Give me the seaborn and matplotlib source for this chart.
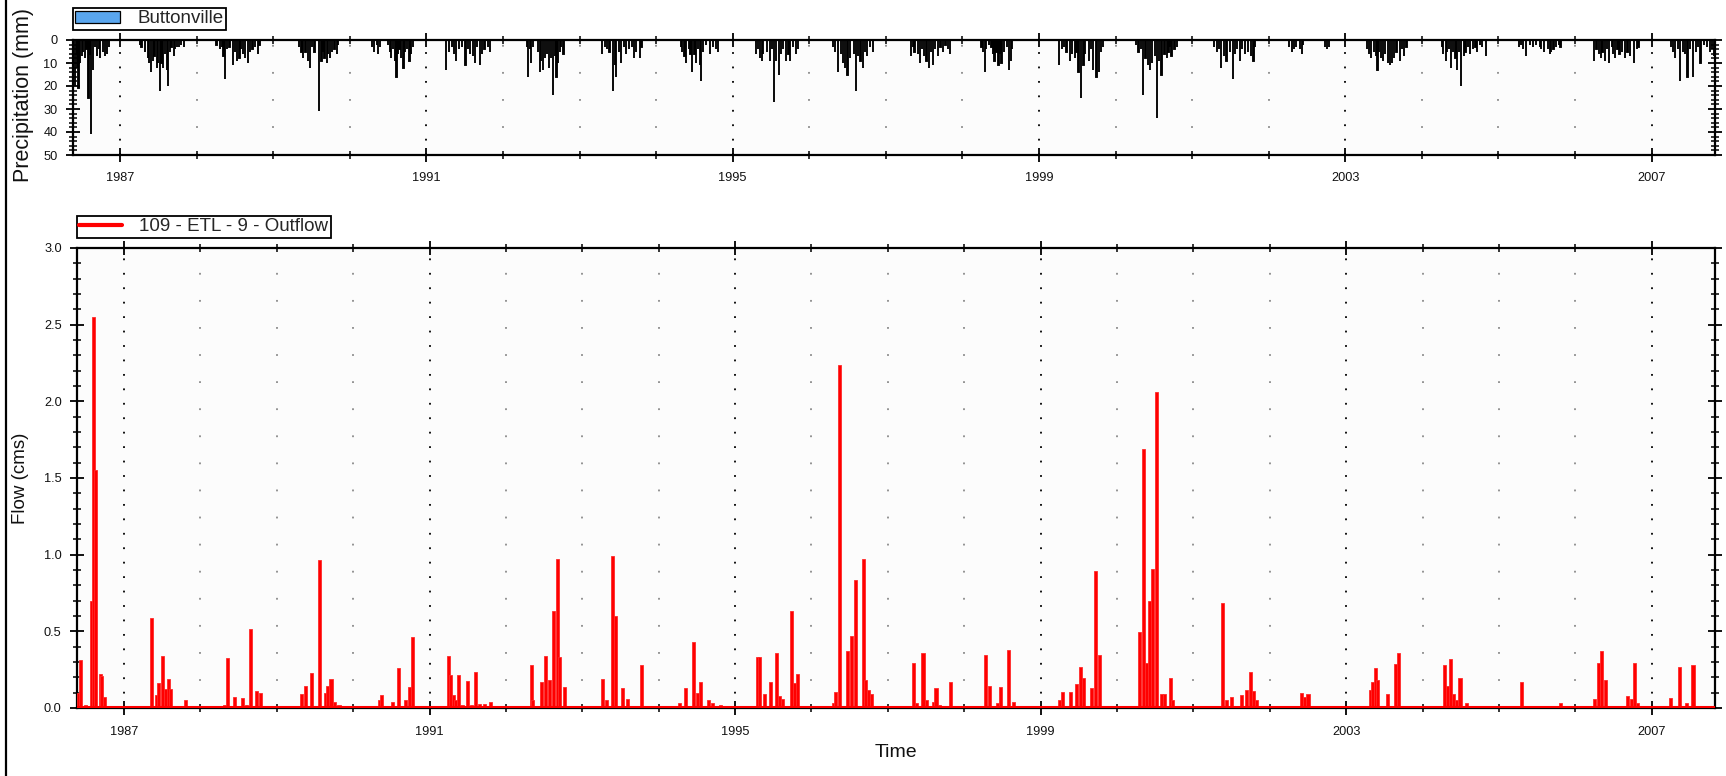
import matplotlib
matplotlib.use("Agg")
import matplotlib.pyplot as plt
import seaborn as sns
import numpy as np
from matplotlib.patches import Patch
from matplotlib.lines import Line2D
from matplotlib.ticker import MultipleLocator, FixedLocator

# ---------------- data (decimal years) ----------------
X_START, X_END = 1986.385, 2007.828
MAJOR_YEARS = [1987, 1991, 1995, 1999, 2003, 2007]
ALL_YEARS = list(range(1987, 2008))

# Buttonville daily precipitation events (decimal year, mm)
precip_t = [
    1986.41, 1986.435, 1986.445, 1986.457, 1986.48, 1986.50, 1986.52, 1986.54, 1986.56, 1986.587, 1986.60, 1986.62, 1986.65, 1986.67, 1986.696, 1986.72, 1986.74, 1986.78, 1986.80, 1986.826, 1986.85,
    1987.26, 1987.28, 1987.33, 1987.36, 1987.38, 1987.40, 1987.43, 1987.45, 1987.48, 1987.50, 1987.52, 1987.54, 1987.565, 1987.59, 1987.61, 1987.63, 1987.65, 1987.67, 1987.70, 1987.72, 1987.74, 1987.77, 1987.80, 1987.83,
    1988.26, 1988.30, 1988.33, 1988.35, 1988.37, 1988.40, 1988.43, 1988.47, 1988.50, 1988.53, 1988.56, 1988.58, 1988.60, 1988.63, 1988.67, 1988.70, 1988.73, 1988.765, 1988.80, 1988.82,
    1989.34, 1989.37, 1989.39, 1989.42, 1989.45, 1989.48, 1989.51, 1989.54, 1989.60, 1989.63, 1989.65, 1989.67, 1989.70, 1989.72, 1989.74, 1989.77, 1989.80, 1989.83, 1989.85,
    1990.29, 1990.32, 1990.35, 1990.37, 1990.39, 1990.50, 1990.52, 1990.54, 1990.565, 1990.59, 1990.61, 1990.63, 1990.65, 1990.67, 1990.70, 1990.72, 1990.75, 1990.78, 1990.80, 1990.83,
    1991.26, 1991.30, 1991.33, 1991.36, 1991.39, 1991.43, 1991.47, 1991.51, 1991.54, 1991.565, 1991.61, 1991.63, 1991.66, 1991.70, 1991.73, 1991.76, 1991.80, 1991.83,
    1992.31, 1992.33, 1992.35, 1992.37, 1992.39, 1992.46, 1992.48, 1992.50, 1992.52, 1992.55, 1992.58, 1992.60, 1992.63, 1992.655, 1992.68, 1992.70, 1992.72, 1992.74, 1992.76, 1992.79,
    1993.29, 1993.33, 1993.36, 1993.39, 1993.44, 1993.46, 1993.48, 1993.515, 1993.545, 1993.58, 1993.61, 1993.65, 1993.68, 1993.71, 1993.74, 1993.79, 1993.81,
    1994.32, 1994.34, 1994.37, 1994.39, 1994.43, 1994.45, 1994.47, 1994.50, 1994.52, 1994.55, 1994.57, 1994.59, 1994.61, 1994.655, 1994.70, 1994.74, 1994.78, 1994.81,
    1995.30, 1995.33, 1995.36, 1995.38, 1995.40, 1995.445, 1995.49, 1995.51, 1995.54, 1995.57, 1995.60, 1995.63, 1995.66, 1995.70, 1995.73, 1995.75, 1995.79, 1995.83, 1995.85,
    1996.31, 1996.34, 1996.38, 1996.41, 1996.44, 1996.47, 1996.50, 1996.53, 1996.58, 1996.61, 1996.64, 1996.67, 1996.70, 1996.73, 1996.75, 1996.79, 1996.83,
    1997.33, 1997.35, 1997.375, 1997.42, 1997.45, 1997.47, 1997.50, 1997.53, 1997.56, 1997.585, 1997.615, 1997.645, 1997.68, 1997.715, 1997.75, 1997.78, 1997.81, 1997.835,
    1998.25, 1998.27, 1998.29, 1998.31, 1998.345, 1998.38, 1998.40, 1998.42, 1998.445, 1998.47, 1998.49, 1998.51, 1998.545, 1998.58, 1998.61, 1998.63, 1998.65,
    1999.26, 1999.30, 1999.33, 1999.36, 1999.40, 1999.43, 1999.47, 1999.49, 1999.515, 1999.545, 1999.58, 1999.60, 1999.65, 1999.68, 1999.71, 1999.75, 1999.78, 1999.81, 1999.84,
    2000.27, 2000.30, 2000.33, 2000.36, 2000.39, 2000.42, 2000.45, 2000.48, 2000.51, 2000.54, 2000.57, 2000.60, 2000.64, 2000.67, 2000.69, 2000.71, 2000.73, 2000.77, 2000.80,
    2001.29, 2001.32, 2001.35, 2001.38, 2001.42, 2001.45, 2001.49, 2001.53, 2001.56, 2001.59, 2001.62, 2001.655, 2001.69, 2001.73, 2001.77, 2001.80, 2001.82,
    2002.26, 2002.30, 2002.33, 2002.36, 2002.41, 2002.43, 2002.45, 2002.73, 2002.76, 2002.79,
    2003.28, 2003.31, 2003.34, 2003.37, 2003.40, 2003.42, 2003.445, 2003.47, 2003.49, 2003.52, 2003.555, 2003.58, 2003.61, 2003.64, 2003.67, 2003.71, 2003.74, 2003.77, 2003.80,
    2004.26, 2004.28, 2004.31, 2004.33, 2004.35, 2004.38, 2004.41, 2004.44, 2004.46, 2004.49, 2004.515, 2004.55, 2004.57, 2004.60, 2004.63, 2004.67, 2004.70, 2004.72, 2004.755, 2004.79, 2004.84,
    2005.27, 2005.29, 2005.32, 2005.36, 2005.41, 2005.45, 2005.49, 2005.54, 2005.56, 2005.60, 2005.65, 2005.67, 2005.69, 2005.72, 2005.755, 2005.79, 2005.81,
    2006.25, 2006.28, 2006.31, 2006.34, 2006.36, 2006.39, 2006.42, 2006.445, 2006.48, 2006.50, 2006.52, 2006.555, 2006.58, 2006.61, 2006.655, 2006.685, 2006.72, 2006.77, 2006.81, 2006.83,
    2007.25, 2007.275, 2007.31, 2007.34, 2007.37, 2007.41, 2007.44, 2007.47, 2007.50, 2007.545, 2007.58, 2007.61, 2007.64, 2007.68, 2007.72, 2007.76, 2007.79, 2007.81,
]
precip_mm = [
    20, 12, 6, 21, 10, 7, 5, 8, 4, 25, 6, 41, 13, 3, 7, 4, 8, 5, 7, 6, 3,
    2, 3, 5, 8, 10, 14, 9, 7, 12, 10, 22, 10, 12, 6, 13, 20, 5, 3, 7, 4, 3, 3, 2, 3,
    2, 4, 3, 7, 17, 4, 3, 11, 5, 9, 8, 4, 6, 8, 10, 5, 4, 3, 6, 2,
    3, 5, 8, 5, 9, 12, 3, 5, 31, 9, 5, 8, 10, 6, 8, 5, 4, 6, 2,
    3, 5, 2, 6, 3, 2, 5, 8, 4, 9, 16, 6, 4, 8, 12, 5, 4, 9, 6, 3,
    13, 5, 3, 6, 9, 4, 3, 11, 4, 6, 7, 10, 3, 11, 6, 4, 3, 5,
    3, 16, 4, 10, 3, 5, 14, 9, 13, 8, 6, 12, 8, 24, 7, 16, 10, 5, 3, 6,
    6, 3, 4, 5, 22, 11, 16, 5, 10, 3, 6, 4, 3, 8, 5, 8, 3,
    3, 5, 7, 10, 4, 6, 14, 6, 10, 4, 11, 18, 5, 2, 6, 3, 4, 5,
    6, 4, 8, 9, 6, 5, 9, 4, 27, 9, 15, 6, 4, 9, 6, 9, 3, 6, 4,
    3, 5, 14, 6, 10, 12, 15, 8, 6, 22, 7, 9, 12, 5, 7, 3, 5,
    7, 3, 5, 6, 10, 4, 7, 9, 12, 5, 11, 4, 7, 3, 5, 2, 4, 6,
    3, 5, 14, 4, 2, 3, 6, 9, 5, 11, 6, 10, 5, 3, 13, 9, 4,
    11, 4, 3, 5, 9, 6, 8, 5, 14, 25, 11, 6, 9, 4, 13, 16, 14, 5, 3,
    2, 5, 4, 24, 8, 11, 13, 10, 7, 34, 9, 15, 6, 8, 5, 3, 7, 4, 3,
    3, 5, 4, 12, 7, 9, 5, 17, 6, 4, 9, 4, 6, 5, 7, 9, 3,
    3, 5, 4, 3, 4, 6, 2, 3, 4, 3,
    4, 6, 8, 5, 7, 13, 5, 8, 9, 6, 10, 11, 10, 8, 5, 9, 4, 7, 3,
    3, 6, 9, 5, 4, 12, 5, 8, 13, 5, 20, 7, 5, 3, 6, 4, 3, 5, 2, 3, 7,
    3, 2, 4, 7, 2, 3, 2, 3, 4, 5, 4, 6, 5, 4, 3, 2, 3,
    9, 4, 6, 8, 5, 9, 4, 10, 3, 6, 8, 4, 6, 5, 8, 5, 7, 10, 4, 3,
    3, 5, 8, 4, 18, 5, 6, 16, 4, 16, 5, 3, 10, 2, 3, 5, 4, 7,
]

# 109 - ETL - 9 - Outflow (decimal year, cms)
flow_t = [
    1986.41, 1986.43, 1986.47, 1986.50, 1986.57, 1986.60, 1986.63, 1986.69, 1986.71, 1986.74, 1986.76,
    1987.25, 1987.36, 1987.42, 1987.45, 1987.50, 1987.55, 1987.58, 1987.615, 1987.75, 1987.80,
    1988.31, 1988.355, 1988.45, 1988.55, 1988.61, 1988.655, 1988.73, 1988.79,
    1989.33, 1989.38, 1989.46, 1989.565, 1989.64, 1989.66, 1989.71, 1989.76, 1989.815,
    1990.30, 1990.34, 1990.37, 1990.52, 1990.59, 1990.69, 1990.74, 1990.78,
    1991.25, 1991.28, 1991.31, 1991.34, 1991.38, 1991.425, 1991.50, 1991.55, 1991.60, 1991.66, 1991.725, 1991.80,
    1992.33, 1992.35, 1992.47, 1992.52, 1992.57, 1992.625, 1992.67, 1992.70, 1992.77,
    1993.27, 1993.32, 1993.39, 1993.43, 1993.52, 1993.59, 1993.78,
    1994.27, 1994.35, 1994.45, 1994.51, 1994.55, 1994.65, 1994.71, 1994.81,
    1995.29, 1995.32, 1995.39, 1995.46, 1995.54, 1995.58, 1995.62, 1995.74, 1995.78, 1995.82,
    1996.29, 1996.32, 1996.37, 1996.47, 1996.52, 1996.58, 1996.68, 1996.71, 1996.75, 1996.78,
    1997.34, 1997.37, 1997.46, 1997.51, 1997.60, 1997.63, 1997.68, 1997.82,
    1998.28, 1998.33, 1998.44, 1998.48, 1998.585, 1998.64,
    1999.245, 1999.29, 1999.39, 1999.47, 1999.52, 1999.56, 1999.67, 1999.72, 1999.77,
    2000.30, 2000.345, 2000.385, 2000.42, 2000.47, 2000.52, 2000.585, 2000.62, 2000.70, 2000.73,
    2001.38, 2001.43, 2001.50, 2001.63, 2001.70, 2001.75, 2001.79, 2001.82,
    2002.41, 2002.45, 2002.50,
    2003.32, 2003.35, 2003.38, 2003.41, 2003.54, 2003.64, 2003.68,
    2004.29, 2004.33, 2004.36, 2004.40, 2004.44, 2004.49, 2004.57,
    2005.30, 2005.80,
    2006.245, 2006.30, 2006.345, 2006.40, 2006.68, 2006.73, 2006.78, 2006.81,
    2007.24, 2007.36, 2007.46, 2007.54, 2007.64, 2007.78,
]
flow_q = [
    0.10, 0.31, 0.01, 0.02, 0.70, 2.55, 1.55, 0.22, 0.21, 0.074, 0.01,
    0.01, 0.587, 0.087, 0.163, 0.34, 0.126, 0.19, 0.126, 0.01, 0.05,
    0.02, 0.326, 0.074, 0.063, 0.02, 0.515, 0.113, 0.10,
    0.089, 0.141, 0.228, 0.967, 0.10, 0.141, 0.19, 0.04, 0.02,
    0.01, 0.05, 0.087, 0.04, 0.264, 0.055, 0.138, 0.465,
    0.338, 0.212, 0.085, 0.05, 0.212, 0.02, 0.177, 0.02, 0.238, 0.026, 0.026, 0.037,
    0.28, 0.05, 0.17, 0.34, 0.18, 0.63, 0.97, 0.33, 0.14,
    0.19, 0.05, 0.99, 0.60, 0.13, 0.06, 0.28,
    0.03, 0.13, 0.43, 0.10, 0.17, 0.05, 0.03, 0.02,
    0.33, 0.33, 0.09, 0.17, 0.36, 0.08, 0.06, 0.63, 0.16, 0.22,
    0.03, 0.107, 2.237, 0.37, 0.47, 0.835, 0.97, 0.185, 0.12, 0.09,
    0.293, 0.03, 0.357, 0.054, 0.04, 0.133, 0.02, 0.17,
    0.346, 0.146, 0.03, 0.135, 0.38, 0.04,
    0.054, 0.107, 0.107, 0.157, 0.27, 0.196, 0.13, 0.896, 0.346,
    0.498, 1.687, 0.293, 0.696, 0.907, 2.06, 0.09, 0.09, 0.196, 0.05,
    0.683, 0.054, 0.07, 0.083, 0.12, 0.233, 0.109, 0.054,
    0.10, 0.07, 0.09,
    0.12, 0.17, 0.26, 0.18, 0.09, 0.29, 0.36,
    0.283, 0.146, 0.32, 0.09, 0.054, 0.193, 0.03,
    0.17, 0.033,
    0.057, 0.296, 0.37, 0.183, 0.08, 0.059, 0.296, 0.033,
    0.067, 0.27, 0.033, 0.283, 0.01, 0.01,
]
FLOW_BASE = 0.006  # low-flow level drawn between events

assert len(precip_t) == len(precip_mm)
assert len(flow_t) == len(flow_q)

# ---------------- style ----------------
sns.set_theme(style="white")
plt.rcParams["font.family"] = ["Liberation Sans", "DejaVu Sans"]

W, H = 1726, 776
fig = plt.figure(figsize=(W / 100, H / 100), dpi=100)
fig.patch.set_facecolor("white")
ax1 = fig.add_axes([73 / W, 1 - 155 / H, (1715 - 73) / W, 115 / H])
ax2 = fig.add_axes([77 / W, 1 - 708 / H, (1715 - 77) / W, 460 / H])

# precipitation bars (inverted axis)
ax1.bar(precip_t, precip_mm, width=1 / 365.25, color="#1f5fa8",
        edgecolor="#000000", linewidth=1.35, align="center", zorder=3)
ax1.set_ylim(50, 0)
ax1.yaxis.set_major_locator(MultipleLocator(10))
ax1.yaxis.set_minor_locator(MultipleLocator(2))

# flow bars
ax2.bar(flow_t, flow_q, width=0.04, color="#ff0000", edgecolor="#ff2a2a",
        linewidth=0.6, align="center", zorder=3)
ax2.axhline(FLOW_BASE, color="#ff0000", lw=2.2, zorder=3)
ax2.set_ylim(0, 3.0)
ax2.yaxis.set_major_locator(MultipleLocator(0.5))
ax2.yaxis.set_minor_locator(MultipleLocator(0.1))
ax2.yaxis.set_major_formatter(matplotlib.ticker.FormatStrFormatter("%.1f"))

for ax, pad in ((ax1, 7), (ax2, 8)):
    ax.set_facecolor("#fcfcfc")
    ax.set_xlim(X_START, X_END)
    ax.xaxis.set_major_locator(FixedLocator(MAJOR_YEARS))
    ax.xaxis.set_minor_locator(FixedLocator(ALL_YEARS))
    ax.set_xticklabels([str(y) for y in MAJOR_YEARS])
    ax.grid(False)
    ax.grid(which="major", axis="x", color="black", linestyle=(0, (1, 7)), lw=1.3, zorder=1)
    ax.grid(which="minor", axis="x", color="#8a8a8a", linestyle=(0, (1, 14)), lw=1.3, zorder=1)
    for s in ax.spines.values():
        s.set_color("black")
        s.set_linewidth(1.6)
    ax.tick_params(axis="both", which="major", direction="inout", length=10, width=1.3,
                   colors="black", labelcolor="#111111", labelsize=9.2,
                   top=True, right=True, bottom=True, left=True)
    ax.tick_params(axis="both", which="minor", direction="inout", length=6, width=1.1,
                   colors="black", top=True, right=True, bottom=True, left=True)
    ax.tick_params(axis="x", which="major", pad=pad)
    ax.tick_params(axis="y", which="major", pad=6)

ax1.set_ylabel("Precipitation (mm)", fontsize=15.5, color="#111111")
ax1.yaxis.set_label_coords(-0.024, 0.52)
ax2.set_ylabel("Flow (cms)", fontsize=13.5, color="#111111")
ax2.yaxis.set_label_coords(-0.029, 0.5)
ax2.set_xlabel("Time", fontsize=14, color="#111111")
ax2.xaxis.set_label_coords(0.5, -0.078)

# legends
leg1 = fig.legend(handles=[Patch(facecolor="#5aa6ee", edgecolor="black", linewidth=0.9,
                                 label="Buttonville")],
                  loc="upper left", bbox_to_anchor=(73 / W, 1 - 8 / H),
                  frameon=True, fancybox=False, edgecolor="black", framealpha=1,
                  fontsize=13.5, borderpad=0.12, handlelength=2.4, handleheight=0.6,
                  handletextpad=0.9, borderaxespad=0)
leg1.get_frame().set_linewidth(1.3)
leg2 = fig.legend(handles=[Line2D([], [], color="#ff0000", lw=3, label="109 - ETL - 9 - Outflow")],
                  loc="upper left", bbox_to_anchor=(77 / W, 1 - 216 / H),
                  frameon=True, fancybox=False, edgecolor="black", framealpha=1,
                  fontsize=13.5, borderpad=0.12, handlelength=2.3,
                  handletextpad=0.9, borderaxespad=0)
leg2.get_frame().set_linewidth(1.3)

# left frame edge of the figure
fig.add_artist(Line2D([0.0035, 0.0035], [0, 1], transform=fig.transFigure,
                      color="black", lw=1.6))

fig.savefig("out.png", dpi=100)
